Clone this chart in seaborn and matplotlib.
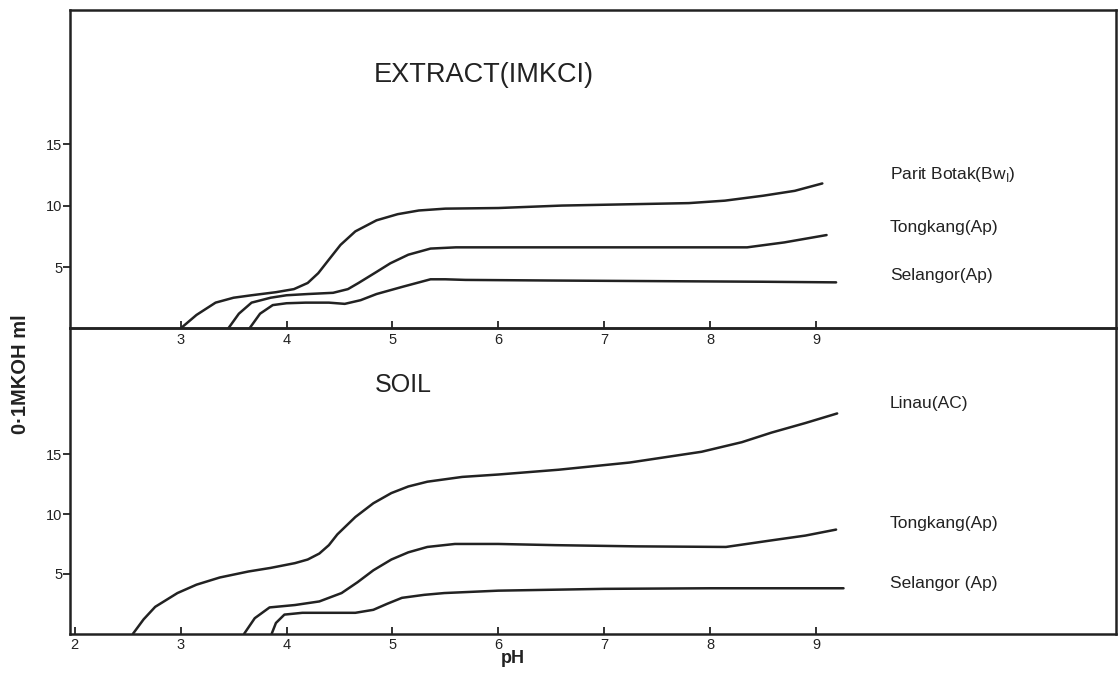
"""Titration curves: 0.1M KOH vs pH for KCl extracts and soils"""

import matplotlib
matplotlib.use("Agg")
import matplotlib.pyplot as plt
import pandas as pd
import seaborn as sns

###########################
# Data
###########################

# Extract (1M KCl)
parit_extract_ph = [3.0, 3.15, 3.33, 3.5, 3.67, 3.9, 4.07, 4.2, 4.3, 4.4, 4.51, 4.65,
                    4.85, 5.05, 5.25, 5.5, 6.0, 6.6, 7.2, 7.8, 8.14, 8.5, 8.8, 9.06]
parit_extract_v = [0.0, 1.1, 2.1, 2.5, 2.7, 2.95, 3.2, 3.7, 4.5, 5.6, 6.8, 7.9,
                   8.8, 9.3, 9.6, 9.75, 9.8, 10.0, 10.1, 10.2, 10.4, 10.8, 11.2, 11.8]

tong_extract_ph = [3.45, 3.55, 3.67, 3.85, 4.0, 4.2, 4.44, 4.58, 4.68, 4.85, 4.98, 5.15,
                   5.36, 5.6, 6.0, 6.6, 7.3, 8.0, 8.35, 8.7, 9.1]
tong_extract_v = [0.0, 1.2, 2.1, 2.5, 2.7, 2.8, 2.9, 3.2, 3.7, 4.6, 5.3, 6.0,
                  6.5, 6.6, 6.6, 6.6, 6.6, 6.6, 6.6, 7.0, 7.6]

sel_extract_ph = [3.65, 3.75, 3.87, 4.0, 4.18, 4.4, 4.55, 4.7, 4.85, 5.1, 5.36, 5.5,
                  5.69, 6.5, 7.5, 8.5, 9.19]
sel_extract_v = [0.0, 1.2, 1.9, 2.05, 2.1, 2.1, 2.0, 2.3, 2.8, 3.4, 4.0, 4.0,
                 3.95, 3.9, 3.85, 3.8, 3.75]

# Soil
linau_soil_ph = [2.55, 2.65, 2.76, 2.97, 3.15, 3.37, 3.64, 3.85, 4.08, 4.2, 4.31, 4.4,
                 4.48, 4.65, 4.82, 4.99, 5.15, 5.33, 5.66, 6.0, 6.57, 7.24, 7.92, 8.3,
                 8.58, 8.9, 9.2]
linau_soil_v = [0.0, 1.2, 2.25, 3.4, 4.1, 4.7, 5.2, 5.5, 5.9, 6.2, 6.7, 7.4,
                8.3, 9.75, 10.9, 11.75, 12.3, 12.7, 13.1, 13.3, 13.7, 14.3, 15.2, 16.0,
                16.8, 17.6, 18.4]

tong_soil_ph = [3.6, 3.7, 3.84, 4.08, 4.31, 4.52, 4.67, 4.82, 4.99, 5.15, 5.33, 5.59,
                6.0, 6.54, 7.3, 8.15, 8.58, 8.9, 9.19]
tong_soil_v = [0.0, 1.3, 2.2, 2.4, 2.7, 3.4, 4.3, 5.3, 6.2, 6.8, 7.25, 7.5,
               7.5, 7.4, 7.3, 7.25, 7.8, 8.2, 8.7]

sel_soil_ph = [3.86, 3.9, 3.98, 4.15, 4.31, 4.65, 4.82, 4.95, 5.09, 5.3, 5.49, 6.0,
               7.0, 8.0, 9.26]
sel_soil_v = [0.0, 0.9, 1.6, 1.75, 1.75, 1.75, 2.0, 2.5, 3.0, 3.25, 3.4, 3.6,
              3.75, 3.8, 3.8]

extract_names = ['Parit Botak(Bw$_\\mathregular{I}$)', 'Tongkang(Ap)', 'Selangor(Ap)']
soil_names = ['Linau(AC)', 'Tongkang(Ap)', 'Selangor (Ap)']
extract_label_y = [12.5, 8.2, 4.3]
soil_label_y = [19.2, 9.2, 4.2]


def to_frame(series):
    '''Stack (name, ph, vol) tuples into one long table'''
    parts = []
    for name, ph, vol in series:
        parts.append(pd.DataFrame({'curve': name, 'pH': ph, 'KOH': vol}))
    return pd.concat(parts, ignore_index=True)


extract_df = to_frame([
    ('parit', parit_extract_ph, parit_extract_v),
    ('tong', tong_extract_ph, tong_extract_v),
    ('sel', sel_extract_ph, sel_extract_v),
])
soil_df = to_frame([
    ('linau', linau_soil_ph, linau_soil_v),
    ('tong', tong_soil_ph, tong_soil_v),
    ('sel', sel_soil_ph, sel_soil_v),
])

sns.set_style('ticks')
plt.rcParams['font.family'] = ['Liberation Sans', 'DejaVu Sans']

fig = plt.figure(figsize=(11.19, 6.8), dpi=100)
ax_top = fig.add_axes([0.063, 0.517, 0.934, 0.468])
ax_bot = fig.add_axes([0.063, 0.068, 0.934, 0.449])
# let the top panel's tick labels show through the lower panel
ax_bot.patch.set_visible(False)

for ax, df in [(ax_top, extract_df), (ax_bot, soil_df)]:
    sns.lineplot(data=df, x='pH', y='KOH', units='curve', estimator=None,
                 sort=False, color='#222222', linewidth=1.8, ax=ax, legend=False)
    ax.set_xlim(1.96, 11.83)
    ax.set_xlabel('')
    ax.set_ylabel('')
    ax.set_yticks([5, 10, 15])
    ax.tick_params(axis='y', direction='out', length=5, width=1.3,
                   labelsize=10.5, pad=1, colors='#222222')
    ax.tick_params(axis='x', direction='in', length=5, width=1.3,
                   labelsize=10.5, pad=3, colors='#222222')
    for side in ax.spines.values():
        side.set_linewidth(1.8)
        side.set_color('#222222')

ax_top.set_ylim(0, 25.9)
ax_top.set_xticks([3, 4, 5, 6, 7, 8, 9])
ax_bot.set_ylim(0, 25.5)
ax_bot.set_xticks([2, 3, 4, 5, 6, 7, 8, 9])

# panel titles
ax_top.text(4.82, 20.6, 'EXTRACT(IMKCI)', fontsize=19.5, color='#222222',
            ha='left', va='center')
ax_bot.text(5.1, 20.75, 'SOIL', fontsize=18, color='#222222',
            ha='center', va='center')

# curve labels on the right
for name, yv in zip(extract_names, extract_label_y):
    ax_top.text(9.7, yv, name, fontsize=12.5, color='#222222', va='center')
for name, yv in zip(soil_names, soil_label_y):
    ax_bot.text(9.7, yv, name, fontsize=12.5, color='#222222', va='center')

fig.text(0.018, 0.45, '0·1MKOH ml', rotation=90, fontsize=14.5,
         fontweight='bold', color='#222222', ha='center', va='center')
fig.text(0.458, 0.032, 'pH', fontsize=13, fontweight='bold',
         color='#222222', ha='center', va='center')

fig.savefig('out.png', dpi=100, facecolor='white')
